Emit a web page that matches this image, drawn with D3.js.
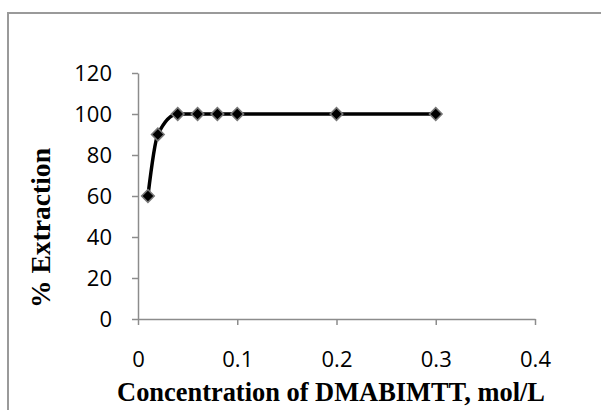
<!DOCTYPE html>
<html>
<head>
<meta charset="utf-8">
<script src="https://cdn.jsdelivr.net/npm/d3@7"></script>
<style>
  html, body { margin: 0; padding: 0; background: #fff; }
  svg { display: block; }
</style>
</head>
<body>
<svg id="chart" width="601" height="410"></svg>
<script>
// ---- data ----
const concentration = [0.01, 0.02, 0.04, 0.06, 0.08, 0.1, 0.2, 0.3];
const extraction = [60, 90, 100, 100, 100, 100, 100, 100];
const xTicks = [0, 0.1, 0.2, 0.3, 0.4];
const yTicks = [0, 20, 40, 60, 80, 100, 120];
const xTitle = "Concentration of DMABIMTT, mol/L";
const yTitle = "% Extraction";

const svg = d3.select("#chart");

// outer frame (only top and left visible in the crop)
svg.append("rect")
  .attr("x", 8).attr("y", 13)
  .attr("width", 800).attr("height", 600)
  .attr("fill", "none").attr("stroke", "#9a9a9a").attr("stroke-width", 2);

const x = d3.scaleLinear().domain([0, 0.4]).range([138, 535]);
const y = d3.scaleLinear().domain([0, 120]).range([319, 73]);

const axisColor = "#8c8c8c";
const tickFont = "'Open Sans', sans-serif";

// X axis
const gx = svg.append("g").attr("transform", `translate(0,${y(0)})`)
  .call(d3.axisBottom(x).tickValues(xTicks).tickSize(6).tickSizeOuter(0)
    .tickFormat(d => d === 0 ? "0" : d3.format(".1f")(d)));
gx.select(".domain").attr("stroke", axisColor).attr("stroke-width", 1.5);
gx.selectAll(".tick line").attr("stroke", axisColor).attr("stroke-width", 1.5);
gx.selectAll(".tick text")
  .attr("font-family", tickFont).attr("font-size", 22)
  .attr("fill", "#000").attr("y", 40).attr("dy", "0.35em");

// Y axis
const gy = svg.append("g").attr("transform", `translate(${x(0)},0)`)
  .call(d3.axisLeft(y).tickValues(yTicks).tickSize(6).tickSizeOuter(0));
gy.select(".domain").attr("stroke", axisColor).attr("stroke-width", 1.5);
gy.selectAll(".tick line").attr("stroke", axisColor).attr("stroke-width", 1.5);
gy.selectAll(".tick text")
  .attr("font-family", tickFont).attr("font-size", 22)
  .attr("fill", "#000").attr("x", -26).attr("dy", "0.35em");

// line
const pts = concentration.map((c, i) => [c, extraction[i]]);
svg.append("path")
  .datum(pts)
  .attr("fill", "none").attr("stroke", "#000").attr("stroke-width", 3.5)
  .attr("stroke-linejoin", "round")
  .attr("d", d3.line().x(d => x(d[0])).y(d => y(d[1])).curve(d3.curveMonotoneX));

// markers (diamonds)
const sym = d3.symbol().type(d3.symbolSquare).size(80);
svg.append("g").selectAll("path")
  .data(pts).join("path")
  .attr("d", sym)
  .attr("transform", d => `translate(${x(d[0])},${y(d[1])}) rotate(45)`)
  .attr("fill", "#000").attr("stroke", "#777").attr("stroke-width", 1.5);

// titles
const titleFont = "'Liberation Serif', 'Times New Roman', serif";
const xt = svg.append("text")
  .attr("x", 331).attr("y", 401)
  .attr("text-anchor", "middle")
  .attr("font-family", titleFont).attr("font-weight", "bold").attr("font-size", 22)
  .attr("fill", "#000")
  .text(xTitle);
// fit width to reference (~428px)
const xw = xt.node().getComputedTextLength();
xt.attr("font-size", 22 * 428 / xw);

const yt = svg.append("text")
  .attr("transform", "translate(50,228) rotate(-90)")
  .attr("text-anchor", "middle")
  .attr("font-family", titleFont).attr("font-weight", "bold").attr("font-size", 22)
  .attr("fill", "#000")
  .text(yTitle);
const yw = yt.node().getComputedTextLength();
yt.attr("font-size", 22 * 160 / yw);
</script>
</body>
</html>
